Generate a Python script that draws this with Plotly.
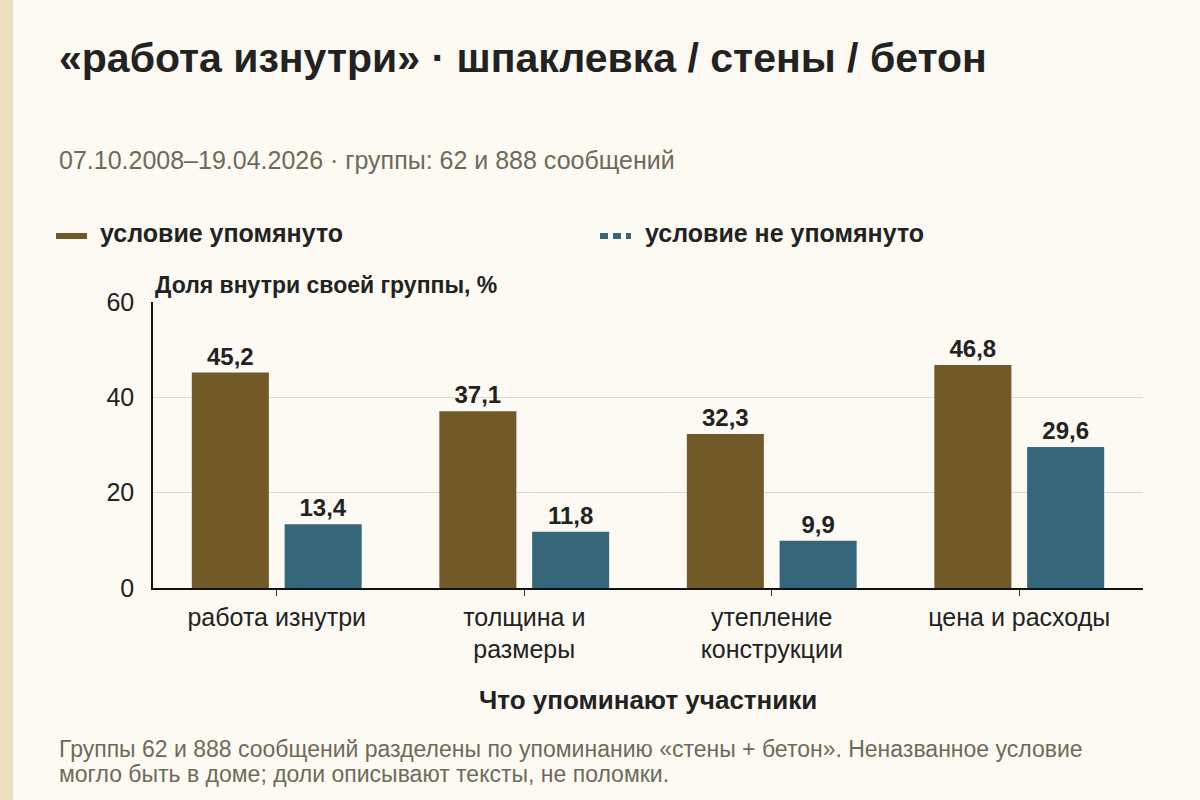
import plotly.graph_objects as go

# data
categories = ["работа изнутри", "толщина и<br>размеры", "утепление<br>конструкции", "цена и расходы"]
mentioned = [45.2, 37.1, 32.3, 46.8]
not_mentioned = [13.4, 11.8, 9.9, 29.6]
y_ticks = [0, 20, 40, 60]

BROWN = "#715a27"
BLUE = "#35667a"
BG = "#fcfaf2"
INK = "#222222"
GREY = "#6e6a5a"
FONT = "Liberation Sans, Arial, sans-serif"

# plot area in pixels (for placing text around it)
L, R, T, B = 153, 1143, 302, 588


def px_x(x):
    return (x - L) / (R - L)


def px_y(y):
    return (B - y) / (B - T)


fig = go.Figure()
fig.add_trace(go.Bar(
    x=categories, y=mentioned, name="условие упомянуто",
    marker=dict(color=BROWN, line=dict(width=0)),
    texttemplate="%{y:.1f}", textposition="outside",
    textfont=dict(size=24, color=INK, family=FONT, weight="bold"),
    cliponaxis=False,
))
fig.add_trace(go.Bar(
    x=categories, y=not_mentioned, name="условие не упомянуто",
    marker=dict(color=BLUE, line=dict(width=0)),
    texttemplate="%{y:.1f}", textposition="outside",
    textfont=dict(size=24, color=INK, family=FONT, weight="bold"),
    cliponaxis=False,
))

annotations = [
    dict(text="«работа изнутри» · шпаклевка / стены / бетон", x=px_x(57), y=px_y(58),
         font=dict(size=41, color=INK, weight="bold")),
    dict(text="07.10.2008–19.04.2026 · группы: 62 и 888 сообщений", x=px_x(57), y=px_y(160),
         font=dict(size=25, color=GREY)),
    dict(text="условие упомянуто", x=px_x(98), y=px_y(233),
         font=dict(size=25, color=INK, weight="bold")),
    dict(text="условие не упомянуто", x=px_x(643), y=px_y(233),
         font=dict(size=25, color=INK, weight="bold")),
    dict(text="Доля внутри своей группы, %", x=px_x(153), y=px_y(285),
         font=dict(size=23, color=INK, weight="bold")),
    dict(text="Что упоминают участники", x=0.5, y=px_y(700), xanchor="center",
         font=dict(size=26, color=INK, weight="bold")),
    dict(text="Группы 62 и 888 сообщений разделены по упоминанию «стены + бетон». Неназванное условие",
         x=px_x(57), y=px_y(749), font=dict(size=23, color=GREY)),
    dict(text="могло быть в доме; доли описывают тексты, не поломки.",
         x=px_x(57), y=px_y(774), font=dict(size=23, color=GREY)),
]
for a in annotations:
    a.setdefault("xanchor", "left")
    a.update(xref="paper", yref="paper", yanchor="middle", showarrow=False)

shapes = [
    # left stripe
    dict(type="rect", xref="paper", yref="paper", x0=px_x(0), x1=px_x(13), y0=px_y(0), y1=px_y(800),
         fillcolor="#ebdfbf", line=dict(width=0), layer="below"),
    # legend markers
    dict(type="line", xref="paper", yref="paper", x0=px_x(56), x1=px_x(87), y0=px_y(236), y1=px_y(236),
         line=dict(color=BROWN, width=6)),
    dict(type="line", xref="paper", yref="paper", x0=px_x(600), x1=px_x(631), y0=px_y(236), y1=px_y(236),
         line=dict(color=BLUE, width=6, dash="8px,5px")),
]

fig.update_layout(
    width=1200, height=800,
    margin=dict(l=L, r=1200 - R, t=T, b=800 - B),
    paper_bgcolor=BG, plot_bgcolor=BG,
    font=dict(family=FONT, color=INK),
    barmode="group", bargap=0.25, bargroupgap=0.17,
    separators=", ",
    showlegend=False,
    annotations=annotations,
    shapes=shapes,
)
fig.update_xaxes(
    showline=True, linecolor="#111111", linewidth=1.5,
    ticks="outside", ticklen=6, tickcolor="#333333",
    tickfont=dict(size=25, color=INK),
    showgrid=False,
)
fig.update_yaxes(
    range=[0, 60], tickvals=y_ticks, showline=True, linecolor="#111111", linewidth=1.5,
    gridcolor="#dcd9d0", gridwidth=1.2, zeroline=False,
    tickfont=dict(size=25, color=INK), ticks="", ticklabelstandoff=12,
)

fig.write_html("out.html", config={"displayModeBar": False},
               post_script="document.body.style.margin='0';")
